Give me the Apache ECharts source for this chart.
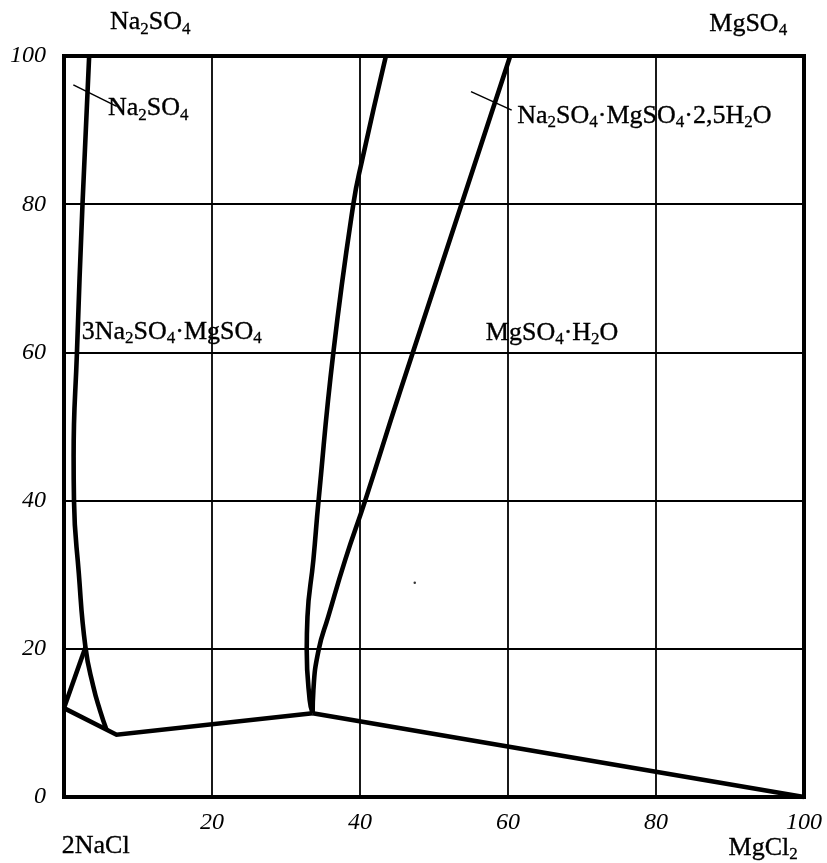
<!DOCTYPE html>
<html><head><meta charset="utf-8">
<script src="https://cdn.jsdelivr.net/npm/echarts@6/dist/echarts.min.js"></script>
<style>html,body{margin:0;padding:0;background:#fff}#c{width:827px;height:863px}</style>
</head><body><div id="c"></div>
<script>
// ---- data (composition %) ----
const xTicks = [0, 20, 40, 60, 80, 100];
const yTicks = [0, 20, 40, 60, 80, 100];
// Na2SO4 / 3Na2SO4·MgSO4 boundary (continues down to the base line)
const curveNa2SO4 = [[3.4,100],[2.5,80],[1.75,60],[1.3,46],[1.35,40],[2.0,30.2],[2.9,20.2],[3.96,14.9],[4.86,11.7],[5.77,9.0]];
// 3Na2SO4·MgSO4 / Na2SO4·MgSO4·2,5H2O boundary
const curveVanthoff = [[43.5,100],[40.3,86],[39.1,80],[36.4,60],[34.4,40],[33.7,32],[32.9,24.3],[32.8,19.8],[33.2,13.1],[33.6,11.3]];
// Na2SO4·MgSO4·2,5H2O / MgSO4·H2O boundary
const curveLoeweite = [[33.6,11.3],[33.7,14.4],[34.4,19.8],[35.7,24.3],[38.0,32.0],[40.7,40],[45.4,54.7],[60.3,100]];
const lineTriangle = [[0,12],[2.9,20.2]];
const lineBase = [[0,12],[7.1,8.4],[33.6,11.3]];
const lineToMgCl2 = [[33.6,11.3],[100,0]];
const leaderNa2SO4 = [[1.26,96.1],[7.12,93.2]];
const leaderLoeweite = [[55.0,95.2],[60.5,92.7]];
const strayDot = [[47.4,28.9]];
// label texts and their anchor (left edge, middle) in data units
const labelTexts = [
  '{n|Na}{s|2}{n|SO}{s|4}',
  '{n|MgSO}{s|4}',
  '{n|2NaCl}',
  '{n|MgCl}{s|2}',
  '{n|Na}{s|2}{n|SO}{s|4}',
  '{n|Na}{s|2}{n|SO}{s|4}{n|·MgSO}{s|4}{n|·2,5H}{s|2}{n|O}',
  '{n|3Na}{s|2}{n|SO}{s|4}{n|·MgSO}{s|4}',
  '{n|MgSO}{s|4}{n|·H}{s|2}{n|O}'
];
const labelAnchors = [[6.2,104.5],[87.2,104.3],[-0.3,-6.7],[89.8,-6.9],[5.95,92.9],[61.25,91.9],[2.39,62.7],[57.0,62.6]];

// ---- chart ----
const FONT = "'Liberation Serif','Times New Roman',serif";
const rich = {
  n: {fontFamily: FONT, fontSize: 26, lineHeight: 30, color: '#000', textBorderColor: '#000', textBorderWidth: 0.35},
  s: {fontFamily: FONT, fontSize: 17, lineHeight: 14, color: '#000', verticalAlign: 'bottom', textBorderColor: '#000', textBorderWidth: 0.3}
};
const thick = {color: '#000', width: 4.6, join: 'miter', cap: 'butt', opacity: 1};
function lineSeries(data, smooth, width) {
  return {
    type: 'line', data: data, smooth: smooth, symbol: 'none', silent: true,
    clip: false,
    lineStyle: width ? {color: '#000', width: width} : thick
  };
}
const chart = echarts.init(document.getElementById('c'), null, {renderer: 'canvas'});
chart.setOption({
  animation: false,
  backgroundColor: '#fff',
  grid: {left: 64, right: 23, top: 56, bottom: 66, show: true, borderColor: '#000', borderWidth: 4},
  xAxis: {
    type: 'value', min: xTicks[0], max: xTicks[xTicks.length-1], interval: 20,
    axisLine: {show: false}, axisTick: {show: false},
    splitLine: {show: true, lineStyle: {color: '#000', width: 1.8}},
    axisLabel: {formatter: v => (v === 0 ? '' : String(v)), fontFamily: FONT, fontStyle: 'italic', fontSize: 24, color: '#000', margin: 14}
  },
  yAxis: {
    type: 'value', min: yTicks[0], max: yTicks[yTicks.length-1], interval: 20,
    axisLine: {show: false}, axisTick: {show: false},
    splitLine: {show: true, lineStyle: {color: '#000', width: 1.8}},
    axisLabel: {fontFamily: FONT, fontStyle: 'italic', fontSize: 24, color: '#000', margin: 18, padding: [10, 0, 0, 0]}
  },
  series: [
    lineSeries(curveNa2SO4, 0.5),
    lineSeries(curveVanthoff, 0.5),
    lineSeries(curveLoeweite, 0.5),
    lineSeries(lineTriangle, false),
    lineSeries(lineBase, false),
    lineSeries(lineToMgCl2, false),
    lineSeries(leaderNa2SO4, false, 1.5),
    lineSeries(leaderLoeweite, false, 1.5),
    {type: 'scatter', data: strayDot, symbolSize: 2.5, itemStyle: {color: '#000'}, silent: true},
    {
      type: 'scatter', symbolSize: 0, silent: true, clip: false,
      itemStyle: {color: '#000', opacity: 1},
      data: labelAnchors.map((p, i) => ({value: p, label: {formatter: labelTexts[i]}})),
      label: {show: true, position: 'right', distance: 0, color: '#000', rich: rich}
    }
  ]
});
</script></body></html>
